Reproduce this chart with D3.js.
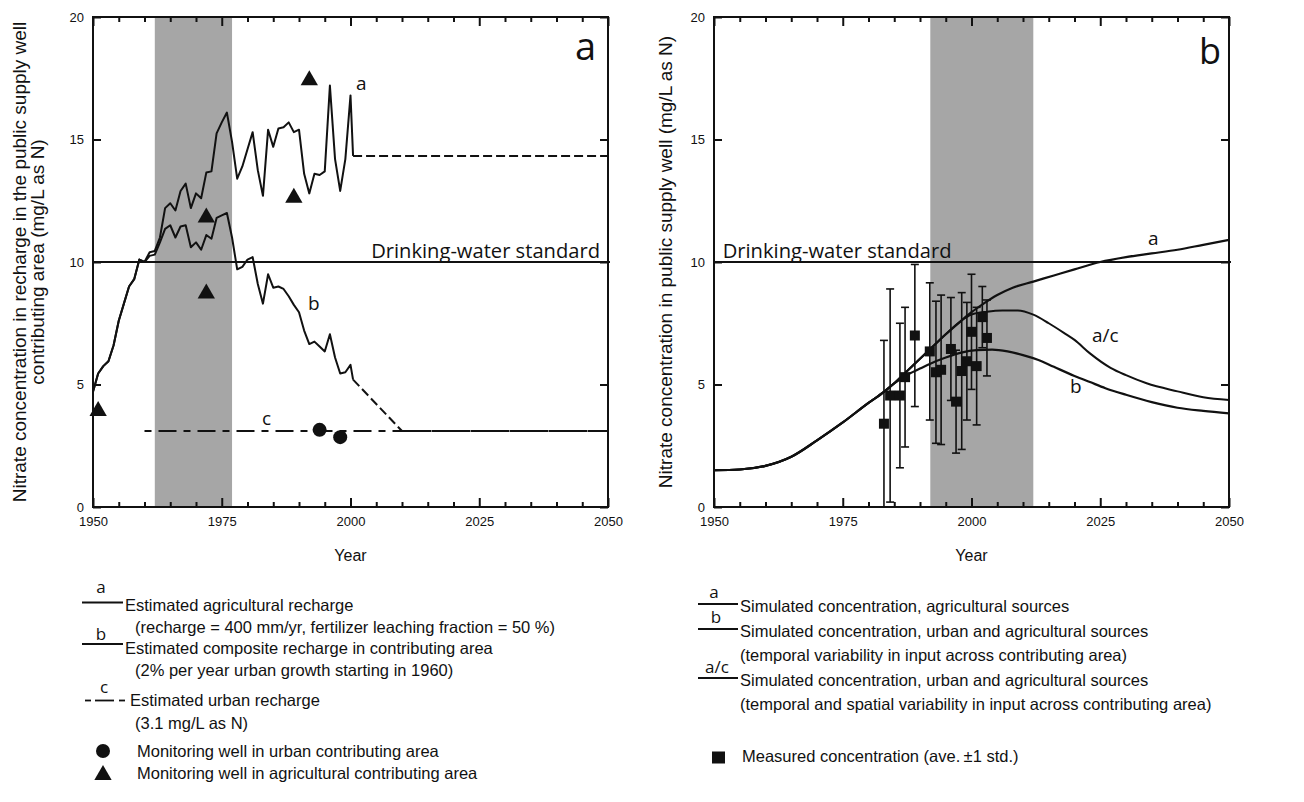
<!DOCTYPE html>
<html><head><meta charset="utf-8">
<script src="https://cdn.jsdelivr.net/npm/d3@7"></script>
<style>
body{margin:0;background:#fff}
svg{display:block}
text{font-family:"Liberation Sans",Arial,sans-serif;fill:#111}
.my{font-family:"Open Sans","Noto Sans",sans-serif}
</style>
</head><body>
<svg id="chart" width="1304" height="802"></svg>
<script>
// ---------------- DATA ----------------
const xMajorTicks = [1950, 1975, 2000, 2025, 2050];
const yTicks = [0, 5, 10, 15, 20];
const drinkingStandard = 10;

// Panel a
const bandA = [1962, 1977];
const agYears = [1950,1951,1952,1953,1954,1955,1956,1957,1958,1959,1960,1961,1962,1963,1964,1965,1966,1967,1968,1969,1970,1971,1972,1973,1974,1975,1976,1977,1978,1979,1980,1981,1982,1983,1984,1985,1986,1987,1988,1989,1990,1991,1992,1993,1994,1995,1996,1997,1998,1999,2000,2000.5];
const agVals = [4.7,5.45,5.75,5.95,6.6,7.6,8.3,9.0,9.3,10.1,10.0,10.4,10.45,11.0,12.2,12.4,12.1,12.9,13.2,12.2,12.8,12.6,13.65,13.7,15.25,15.7,16.1,14.9,13.4,13.9,14.6,15.3,13.75,12.7,15.4,14.7,15.45,15.5,15.7,15.3,15.4,13.6,12.8,13.6,13.55,13.7,17.2,14.2,12.9,14.2,16.8,14.33];
const compYears = agYears;
const compVals = [4.7,5.45,5.75,5.95,6.6,7.6,8.3,9.0,9.3,10.1,10.0,10.25,10.3,10.8,11.35,11.5,11.0,11.45,11.5,10.6,10.8,10.5,11.1,10.95,11.8,11.9,12.0,11.0,9.7,9.8,10.1,10.2,9.1,8.3,9.5,8.95,9.0,8.9,8.6,8.25,7.95,7.2,6.65,6.75,6.55,6.35,7.05,6.1,5.45,5.5,5.8,5.2];
const agProjYears = [2000.5, 2050];
const agProjVals = [14.33, 14.33];
const compProjYears = [2000.5, 2010, 2050];
const compProjVals = [5.2, 3.1, 3.1];
const urbanYears = [1960, 2050];
const urbanVals = [3.1, 3.1];
const triYears = [1951, 1972, 1972, 1989, 1992];
const triVals = [4.0, 8.8, 11.9, 12.7, 17.5];
const circYears = [1994, 1998];
const circVals = [3.15, 2.85];

// Panel b
const bandB = [1992, 2012];
const simYearsA = [1950,1955,1960,1965,1970,1975,1980,1983,1985,1987,1990,1992,1995,1998,2000,2002,2005,2008,2012,2016,2020,2025,2030,2035,2040,2045,2050];
const simA = [1.5,1.53,1.68,2.05,2.72,3.45,4.25,4.7,5.05,5.45,6.05,6.45,7.05,7.6,7.95,8.25,8.65,8.95,9.2,9.45,9.7,10.0,10.2,10.35,10.5,10.7,10.9];
const simYearsB = [1950,1955,1960,1965,1970,1975,1980,1983,1985,1988,1990,1992,1995,1998,2001,2004,2007,2010,2013,2016,2020,2023,2026,2030,2035,2040,2045,2050];
const simB = [1.5,1.53,1.68,2.05,2.72,3.45,4.25,4.7,5.05,5.45,5.65,5.85,6.1,6.3,6.4,6.42,6.35,6.2,6.0,5.72,5.35,5.1,4.85,4.58,4.28,4.05,3.92,3.82];
const simYearsAC = [1950,1955,1960,1965,1970,1975,1980,1983,1985,1987,1990,1992,1995,1998,2000,2003,2006,2009,2012,2015,2018,2020,2023,2027,2030,2034,2040,2045,2050];
const simAC = [1.5,1.53,1.68,2.05,2.72,3.45,4.25,4.7,5.05,5.45,6.05,6.45,7.05,7.6,7.85,7.97,8.02,8.02,7.85,7.5,7.1,6.82,6.27,5.68,5.38,5.05,4.72,4.48,4.37];
const measYears = [1983,1984.2,1986.1,1987.1,1989,1991.9,1993.1,1994.1,1996,1997,1998.1,1999.1,2000,2001,2002.1,2003];
const measVals = [3.4,4.55,4.55,5.3,7.0,6.35,5.5,5.6,6.45,4.3,5.55,5.95,7.15,5.75,7.75,6.9];
const measStd = [3.4,4.35,2.95,2.85,2.9,2.8,2.9,3.05,2.1,2.1,3.2,2.4,2.35,2.4,1.25,1.55];

// Text
const titleA = ["Nitrate concentration in recharge in the public supply well", "contributing area (mg/L as N)"];
const titleB = "Nitrate concentration in public supply well (mg/L as N)";
const legendAText = ["Estimated agricultural recharge","(recharge = 400 mm/yr, fertilizer leaching fraction = 50 %)","Estimated composite recharge in contributing area","(2% per year urban growth starting in 1960)","Estimated urban recharge","(3.1 mg/L as N)","Monitoring well in urban contributing area","Monitoring well in agricultural contributing area"];
const legendBText = ["Simulated concentration, agricultural sources","Simulated concentration, urban and agricultural sources","(temporal variability in input across contributing area)","Simulated concentration, urban and agricultural sources","(temporal and spatial variability in input across contributing area)","Measured concentration (ave.\u2009\u00b11 std.)"];

// ---------------- DRAW ----------------
const svg = d3.select("#chart");
const xA = d3.scaleLinear().domain([1950, 2050]).range([93, 608]);
const yA = d3.scaleLinear().domain([0, 20]).range([507, 17]);
const xB = d3.scaleLinear().domain([1950, 2050]).range([714, 1229]);
const yB = d3.scaleLinear().domain([0, 20]).range([507, 17]);
const zip = (xs, ys) => xs.map((v, i) => [v, ys[i]]);

function band(x, y, b) {
  svg.append("rect").attr("x", x(b[0])).attr("y", y(20)).attr("width", x(b[1]) - x(b[0]))
    .attr("height", y(0) - y(20)).attr("fill", "#a6a6a6");
}

function axes(x, y) {
  const [x0, x1] = x.range(), [y0, y1] = y.range();
  const minor = d3.range(1955, 2050, 5).filter(v => v % 25 !== 0);
  const style = g => { g.select(".domain").remove(); g.selectAll(".tick line").attr("stroke", "#111").attr("stroke-width", 2); g.selectAll(".tick text").attr("font-size", 13).attr("font-family", "Liberation Sans, Arial, sans-serif").attr("fill", "#1a1a1a"); };
  svg.append("g").attr("transform", `translate(0,${y0})`).call(d3.axisBottom(x).tickValues(minor).tickSize(-5).tickFormat("")).call(style);
  svg.append("g").attr("transform", `translate(0,${y0})`).call(d3.axisBottom(x).tickValues(xMajorTicks).tickSize(-9).tickPadding(10).tickFormat(d3.format("d"))).call(style);
  svg.append("g").attr("transform", `translate(0,${y1})`).call(d3.axisTop(x).tickValues(minor).tickSize(-5).tickFormat("")).call(style);
  svg.append("g").attr("transform", `translate(0,${y1})`).call(d3.axisTop(x).tickValues(xMajorTicks).tickSize(-9).tickFormat("")).call(style);
  svg.append("g").attr("transform", `translate(${x0},0)`).call(d3.axisLeft(y).tickValues(yTicks).tickSize(-8).tickPadding(9)).call(style);
  svg.append("g").attr("transform", `translate(${x1},0)`).call(d3.axisRight(y).tickValues(yTicks).tickSize(-8).tickFormat("")).call(style);
  svg.append("rect").attr("x", x0).attr("y", y1).attr("width", x1 - x0).attr("height", y0 - y1)
    .attr("fill", "none").attr("stroke", "#111").attr("stroke-width", 2);
  svg.append("line").attr("x1", x0).attr("x2", x1 + 2).attr("y1", y(drinkingStandard)).attr("y2", y(drinkingStandard))
    .attr("stroke", "#111").attr("stroke-width", 1.8);
  svg.append("text").attr("x", (x0 + x1) / 2).attr("y", 561).attr("text-anchor", "middle").attr("font-size", 16).text("Year");
}

function path(x, y, xs, ys, opts = {}) {
  const line = d3.line().x(d => x(d[0])).y(d => y(d[1])).curve(opts.curve || d3.curveLinear);
  svg.append("path").attr("d", line(zip(xs, ys))).attr("fill", "none").attr("stroke", "#111")
    .attr("stroke-width", opts.w || 2).attr("stroke-dasharray", opts.dash || null).attr("stroke-linejoin", "round");
}

function label(x, y, txt, size, anchor = "start", cls = "my") {
  return svg.append("text").attr("class", cls).attr("x", x).attr("y", y).attr("font-size", size)
    .attr("text-anchor", anchor).text(txt);
}

// ---- Panel a ----
band(xA, yA, bandA);
path(xA, yA, urbanYears, urbanVals, {dash: "7,7,18,7", w: 2});
path(xA, yA, agYears, agVals);
path(xA, yA, compYears, compVals);
path(xA, yA, agProjYears, agProjVals, {dash: "9,4"});
path(xA, yA, compProjYears, compProjVals, {dash: "9,4"});
axes(xA, yA);
const tri = d3.symbol().type(d3.symbolTriangle).size(130);
svg.append("g").selectAll("path").data(zip(triYears, triVals)).join("path")
  .attr("d", tri).attr("transform", d => `translate(${xA(d[0])},${yA(d[1]) + 2})`).attr("fill", "#111");
svg.append("g").selectAll("circle").data(zip(circYears, circVals)).join("circle")
  .attr("cx", d => xA(d[0])).attr("cy", d => yA(d[1])).attr("r", 7).attr("fill", "#111");

label(600, 258, "Drinking-water standard", 20, "end");
label(596, 60, "a", 38, "end");
label(356, 90, "a", 19);
label(308, 310, "b", 19);
label(262, 425, "c", 19);

svg.append("text").attr("transform", "translate(25.5,262) rotate(-90)").attr("text-anchor", "middle").attr("font-size", 19).text(titleA[0]);
svg.append("text").attr("transform", "translate(44,262) rotate(-90)").attr("text-anchor", "middle").attr("font-size", 19).text(titleA[1]);

// ---- Panel b ----
band(xB, yB, bandB);
axes(xB, yB);
const smooth = d3.curveMonotoneX;
path(xB, yB, simYearsA, simA, {curve: smooth, w: 2.2});
path(xB, yB, simYearsB, simB, {curve: smooth, w: 2.2});
path(xB, yB, simYearsAC, simAC, {curve: smooth, w: 2});
const meas = zip(measYears, measVals).map((d, i) => [d[0], d[1], measStd[i]]);
const eg = svg.append("g").attr("stroke", "#111").attr("stroke-width", 1.6);
meas.forEach(d => {
  const cx = xB(d[0]), top = yB(d[1] + d[2]), bot = yB(d[1] - d[2]);
  eg.append("line").attr("x1", cx).attr("x2", cx).attr("y1", top).attr("y2", bot);
  eg.append("line").attr("x1", cx - 4).attr("x2", cx + 4).attr("y1", top).attr("y2", top);
  eg.append("line").attr("x1", cx - 4).attr("x2", cx + 4).attr("y1", bot).attr("y2", bot);
});
svg.append("g").selectAll("rect").data(meas).join("rect")
  .attr("x", d => xB(d[0]) - 5).attr("y", d => yB(d[1]) - 5).attr("width", 10).attr("height", 10).attr("fill", "#111");

label(722.7, 257.5, "Drinking-water standard", 20, "start");
label(1221, 64, "b", 36, "end");
label(1148, 245, "a", 19);
label(1092, 341.5, "a/c", 19);
label(1070, 393, "b", 19);
svg.append("text").attr("transform", "translate(672,262) rotate(-90)").attr("text-anchor", "middle").attr("font-size", 19).text(titleB);

// fit "Drinking-water standard" widths
svg.selectAll("text.my").filter(function(){ return this.textContent === "Drinking-water standard"; })
  .each(function(){ const w = this.getComputedTextLength(); d3.select(this).attr("font-size", 20 * 229 / w); });

// ---- Legend a ----
const legA = svg.append("g");
const hl = (g, x1, x2, y, dash) => g.append("line").attr("x1", x1).attr("x2", x2).attr("y1", y).attr("y2", y)
  .attr("stroke", "#111").attr("stroke-width", 1.8).attr("stroke-dasharray", dash || null);
hl(legA, 82, 123, 602.5);
label(101, 593, "a", 17, "middle");
hl(legA, 82, 123, 644);
label(101, 640, "b", 17, "middle");
hl(legA, 85, 91, 700.5); hl(legA, 95, 114, 700.5); hl(legA, 119, 125, 700.5);
label(104, 693, "c", 17, "middle");
const legAX = [125, 135, 125, 135, 130, 135, 137, 137];
const legAY = [611, 633, 654, 676, 706, 729, 757, 779];
legendAText.forEach((t, i) => label(legAX[i], legAY[i], t, 16.5, "start", "lg"));
legA.append("circle").attr("cx", 103).attr("cy", 751).attr("r", 7).attr("fill", "#111");
legA.append("path").attr("d", tri).attr("transform", "translate(103,775)").attr("fill", "#111");

// ---- Legend b ----
const legB = svg.append("g");
hl(legB, 698, 738, 604);
label(714, 597.5, "a", 17, "middle");
hl(legB, 698, 738, 629);
label(716, 623, "b", 17, "middle");
hl(legB, 698, 738, 678);
label(717, 673, "a/c", 17, "middle");
const legBY = [611.5, 636.5, 661, 686, 710, 762];
const legBX = [740, 740, 740, 740, 740, 742];
legendBText.forEach((t, i) => label(legBX[i], legBY[i], t, 16.5, "start", "lg"));
legB.append("rect").attr("x", 712).attr("y", 751.5).attr("width", 13).attr("height", 12).attr("fill", "#111");
</script>
</body></html>
